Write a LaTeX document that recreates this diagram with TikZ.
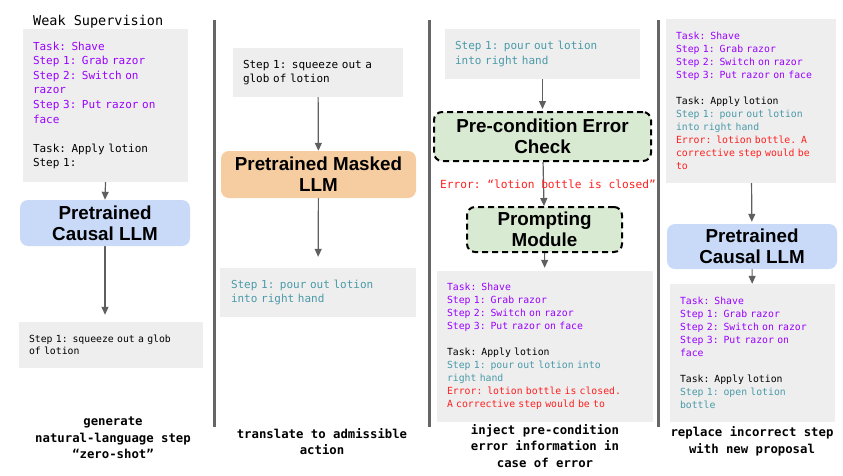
\documentclass[tikz,border=0pt]{standalone}
\usepackage{fontspec}
\setmonofont{DejaVu Sans Mono}
\newfontfamily\llmfont{Liberation Sans}
\usetikzlibrary{arrows.meta}
\pgfdeclarelayer{edgelayer}
\pgfdeclarelayer{nodelayer}
\pgfsetlayers{edgelayer,nodelayer,main}
\definecolor{boxgrey}{HTML}{EEEEEE}
\definecolor{causalblue}{HTML}{C9DAF8}
\definecolor{maskedorange}{HTML}{F6CDA0}
\definecolor{checkgreen}{HTML}{D9EAD3}
\definecolor{taskpurple}{HTML}{9900FF}
\definecolor{stepteal}{HTML}{4A9AA8}
\definecolor{errred}{HTML}{FF2020}
\definecolor{arrowgrey}{HTML}{5F5F5F}
\definecolor{dividergrey}{HTML}{666666}
\newcommand{\bigmono}{\ttfamily\fontsize{11}{14.6}\selectfont}
\newcommand{\smallmono}{\ttfamily\fontsize{9.8}{13}\selectfont}
\newcommand{\pur}[1]{\textcolor{taskpurple}{#1}}
\newcommand{\tea}[1]{\textcolor{stepteal}{#1}}
\newcommand{\err}[1]{\textcolor{errred}{#1}}
\tikzset{font=\ttfamily}
\tikzstyle{none}=[inner sep=0pt]
\tikzstyle{greybox}=[fill=boxgrey,inner xsep=10pt,inner ysep=0pt,align=left]
\tikzstyle{llm}=[rounded corners=8pt,inner sep=0pt,align=center,font=\llmfont\bfseries\fontsize{18.8}{21}\selectfont]
\tikzstyle{causal}=[style=llm,fill=causalblue]
\tikzstyle{masked}=[style=llm,fill=maskedorange]
\tikzstyle{errcheck}=[style=llm,fill=checkgreen,draw=black,line width=2pt,dash pattern=on 6pt off 4pt]
\tikzstyle{captiontext}=[inner sep=0pt,align=center,font=\ttfamily\bfseries\fontsize{12.3}{16.5}\selectfont]
\tikzstyle{flow}=[draw=arrowgrey,line width=1.2pt,-{Triangle[width=7pt,length=8pt]}]
\tikzstyle{divider}=[draw=dividergrey,line width=3pt]

\begin{document}
\begin{tikzpicture}[x=1pt,y=-1pt]
	\useasboundingbox (0,0) rectangle (843,475);
	\begin{pgfonlayer}{nodelayer}
		% zero-shot
		\node [style=none, anchor=west, font=\ttfamily\fontsize{13.5}{16}\selectfont] (0) at (33, 22) {Weak Supervision};
		\node [style=greybox, font=\bigmono, minimum width=165pt, minimum height=153pt, text width=145pt] (1) at (105.5, 105.5) {\pur{Task: Shave}\\\pur{Step 1: Grab razor}\\\pur{Step 2: Switch on}\\\pur{razor}\\\pur{Step 3: Put razor on}\\\pur{face}\\[14.6pt]Task: Apply lotion\\Step 1:};
		\node [style=causal, minimum width=170pt, minimum height=46pt] (2) at (105, 223) {Pretrained\\Causal LLM};
		\node [style=greybox, font=\ttfamily\fontsize{9.8}{12.5}\selectfont, minimum width=184pt, minimum height=46pt, text width=164pt] (3) at (111, 345) {Step 1: squeeze out a glob\\of lotion};
		\node [style=captiontext] (4) at (113, 438) {generate\\natural-language step\\“zero-shot”};
		% translation
		\node [style=greybox, font=\ttfamily\fontsize{11}{14}\selectfont, minimum width=170pt, minimum height=49pt, text width=150pt] (5) at (318, 72.5) {Step 1: squeeze out a\\glob of lotion};
		\node [style=masked, minimum width=195pt, minimum height=47pt] (6) at (318.5, 174.5) {Pretrained Masked\\LLM};
		\node [style=greybox, font=\bigmono, inner xsep=11pt, minimum width=196pt, minimum height=49pt, text width=174pt] (7) at (318, 292.5) {\tea{Step 1: pour out lotion}\\\tea{into right hand}};
		\node [style=captiontext] (8) at (322, 441.5) {translate to admissible\\action};
		% error correction
		\node [style=greybox, font=\bigmono, minimum width=195pt, minimum height=50pt, text width=175pt] (9) at (542.5, 54) {\tea{Step 1: pour out lotion}\\\tea{into right hand}};
		\node [style=errcheck, minimum width=217pt, minimum height=49pt] (10) at (542.5, 136.5) {Pre-condition Error\\Check};
		\node [style=none, font=\ttfamily\fontsize{11.2}{13}\selectfont, text=errred] (11) at (548, 184) {Error: “lotion bottle is closed”};
		\node [style=errcheck, minimum width=155pt, minimum height=45pt] (12) at (544.5, 229.5) {Prompting\\Module};
		\node [style=greybox, font=\smallmono, minimum width=216pt, minimum height=151pt, text width=196pt] (13) at (545, 346.5) {\pur{Task: Shave}\\\pur{Step 1: Grab razor}\\\pur{Step 2: Switch on razor}\\\pur{Step 3: Put razor on face}\\[13pt]Task: Apply lotion\\\tea{Step 1: pour out lotion into}\\\tea{right hand}\\\err{Error: lotion bottle is closed.}\\\err{A corrective step would be to}};
		\node [style=captiontext] (14) at (545, 446) {inject pre-condition\\error information in\\case of error};
		% new proposal
		\node [style=greybox, font=\smallmono, minimum width=170pt, minimum height=164pt, text width=150pt] (15) at (751, 101) {\pur{Task: Shave}\\\pur{Step 1: Grab razor}\\\pur{Step 2: Switch on razor}\\\pur{Step 3: Put razor on face}\\[13pt]Task: Apply lotion\\\tea{Step 1: pour out lotion}\\\tea{into right hand}\\\err{Error: lotion bottle. A}\\\err{corrective step would be}\\\err{to}};
		\node [style=causal, minimum width=170pt, minimum height=45pt] (16) at (752, 246.5) {Pretrained\\Causal LLM};
		\node [style=greybox, font=\smallmono, minimum width=165pt, minimum height=138pt, text width=145pt] (17) at (752.5, 353) {\pur{Task: Shave}\\\pur{Step 1: Grab razor}\\\pur{Step 2: Switch on razor}\\\pur{Step 3: Put razor on}\\\pur{face}\\[13pt]Task: Apply lotion\\\tea{Step 1: open lotion}\\\tea{bottle}};
		\node [style=captiontext] (18) at (752, 441.5) {replace incorrect step\\with new proposal};
	\end{pgfonlayer}
	\begin{pgfonlayer}{edgelayer}
		\draw [style=divider] (214, 20) to (214, 427);
		\draw [style=divider] (429, 20) to (429, 427);
		\draw [style=divider] (658, 20) to (658, 427);
		\draw [style=flow] (1.south) to (2.north);
		\draw [style=flow, shorten >=7pt] (2.south) to (2.south |- 3.north);
		\draw [style=flow] (5) to (6);
		\draw [style=flow, shorten >=11pt] (6) to (7);
		\draw [style=flow, shorten >=2pt] (9) to (10);
		\draw [style=flow] (10) to (12);
		\draw [style=flow, shorten >=3pt] (12) to (13);
		\draw [style=flow, shorten >=2pt] (15) to (16);
		\draw [style=flow] (16) to (17);
	\end{pgfonlayer}
\end{tikzpicture}
\end{document}
